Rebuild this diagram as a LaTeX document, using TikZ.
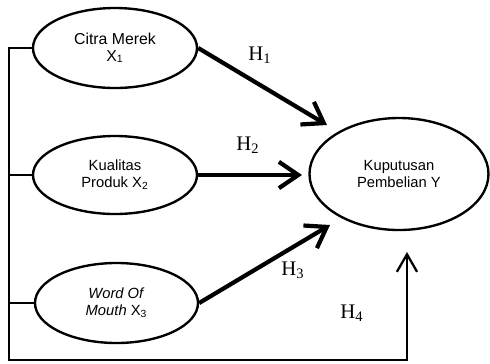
\documentclass[tikz,border=0pt]{standalone}
\usepackage{fontspec}
\setmainfont{Liberation Sans}
\newfontfamily\hfont{Liberation Serif}
\usetikzlibrary{shapes.geometric}
\usetikzlibrary{calc}
\usetikzlibrary{arrows.meta}

\begin{document}
\begin{tikzpicture}[var/.style={ellipse, draw, line width=1.35pt, inner sep=0pt, align=center, font=\fontsize{8.4}{9.5}\selectfont},
		hyp/.style={line width=2.4pt, -{Straight Barb[length=11pt, width=15pt]}},
		hlabel/.style={font=\hfont\fontsize{11.8}{13}\selectfont}]

		\useasboundingbox (0,0) rectangle (9.8,-7.26);

		\node[var, minimum width=3.28cm, minimum height=1.6cm, font=\fontsize{9}{9.5}\selectfont] (citra) at (2.30,-0.96) {Citra Merek\\X\textsubscript{1}};
		\node[var, minimum width=3.28cm, minimum height=1.56cm] (kualitas) at (2.30,-3.50) {Kualitas\\Produk X\textsubscript{2}};
		\node[var, minimum width=3.26cm, minimum height=1.6cm] (wom) at (2.33,-6.06) {\textit{Word Of}\\\textit{Mouth} X\textsubscript{3}};
		\node[var, minimum width=3.58cm, minimum height=2.24cm] (keputusan) at (7.98,-3.48) {Kuputusan\\Pembelian Y};

		\coordinate (bl) at (0.18,-7.20);
		\coordinate (h4end) at (8.14,-5.04);
		\coordinate (t1) at (6.54,-2.50);
		\coordinate (t2) at (6.04,-3.50);
		\coordinate (t3) at (6.60,-4.50);

		\draw [hyp] (citra.east) -- (t1);
		\draw [hyp] (kualitas.east) -- (t2);
		\draw [hyp] (wom.east) -- (t3);

		\draw [line width=1.3pt, -{Straight Barb[length=10pt, width=11.5pt]}] (citra.west) -| (bl) -| (h4end);
		\draw [line width=1.3pt] (kualitas.west) -- (kualitas.west -| bl);
		\draw [line width=1.3pt] (wom.west) -- (wom.west -| bl);

		\node[hlabel] (h1) at (5.20,-1.10) {H\textsubscript{1}};
		\node[hlabel] (h2) at (4.96,-2.90) {H\textsubscript{2}};
		\node[hlabel] (h3) at (5.86,-5.40) {H\textsubscript{3}};
		\node[hlabel] (h4) at (7.04,-6.26) {H\textsubscript{4}};
    \end{tikzpicture}
\end{document}
